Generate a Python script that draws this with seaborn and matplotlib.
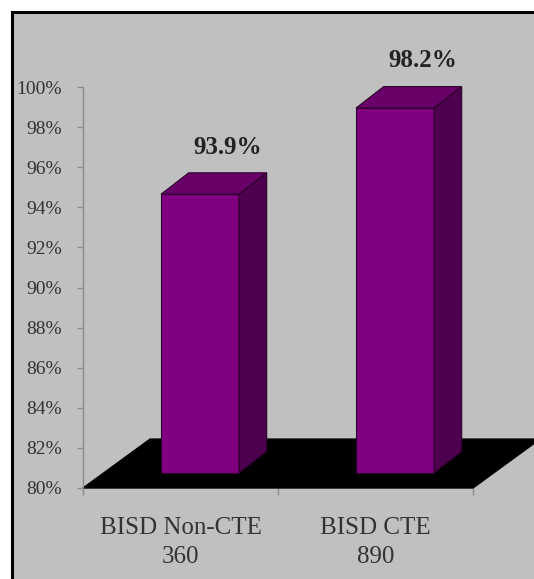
import matplotlib
matplotlib.use("Agg")
import matplotlib.pyplot as plt
from matplotlib.patches import Polygon, Rectangle
import pandas as pd
import seaborn as sns

# =============================================================================
# data
# =============================================================================
groups = ["BISD Non-CTE", "BISD CTE"]
counts = [360, 890]
rates = [93.9, 98.2]
y_ticks = list(range(80, 101, 2))

# colours
BG = "#c0c0c0"
FRONT = "#800080"
TOP = "#690069"
SIDE = "#4d004d"
EDGE = "#2a002a"

# fake 3d geometry (data units)
BAR_W = 0.4
SHIFT_X, SHIFT_Y = 0.1, 0.75     # bars sit a bit back on the floor
DEPTH_X, DEPTH_Y = 0.142, 1.07   # depth of the bars
FLOOR_X, FLOOR_Y = 0.344, 2.44   # depth of the floor
Y0 = 80

df = pd.DataFrame({
    "group": [f"{g}\n{c}" for g, c in zip(groups, counts)],
    "rate": rates,
})

sns.set_theme(style="white")
plt.rcParams["font.family"] = ["Liberation Serif", "DejaVu Serif"]

fig = plt.figure(figsize=(5.34, 5.79), dpi=100)
fig.patch.set_facecolor("white")
# grey chart area with black frame (cropped on right/bottom)
fig.add_artist(Rectangle((12 / 534, -0.1), 1.0, (579 - 12) / 579 + 0.1,
                         transform=fig.transFigure, facecolor=BG,
                         edgecolor="black", linewidth=2.2, zorder=0))

ax = fig.add_axes([83 / 534, (579 - 488) / 579, 390 / 534, 401 / 579])
ax.set_facecolor("none")

sns.barplot(data=df, x="group", y="rate", color=FRONT, width=BAR_W,
            saturation=1, ax=ax, zorder=3)

ax.set_xlim(-0.5, 1.5)
ax.set_ylim(Y0, 100)

# floor
floor = Polygon([(-0.5, Y0), (1.5, Y0), (1.5 + FLOOR_X, Y0 + FLOOR_Y),
                 (-0.5 + FLOOR_X, Y0 + FLOOR_Y)],
                closed=True, facecolor="black", edgecolor="black",
                zorder=1, clip_on=False)
ax.add_patch(floor)

# turn the flat bars into boxes
bars = list(ax.patches)[:len(rates)]
for i, (bar, v) in enumerate(zip(bars, rates)):
    x0 = i - BAR_W / 2 + SHIFT_X
    x1 = x0 + BAR_W
    y0, y1 = Y0 + SHIFT_Y, v + SHIFT_Y
    bar.set_x(x0)
    bar.set_y(y0)
    bar.set_height(y1 - y0)
    bar.set_edgecolor(EDGE)
    bar.set_linewidth(0.8)
    bar.set_clip_on(False)

    top = [(x0, y1), (x1, y1), (x1 + DEPTH_X, y1 + DEPTH_Y), (x0 + DEPTH_X, y1 + DEPTH_Y)]
    side = [(x1, y0), (x1 + DEPTH_X, y0 + DEPTH_Y), (x1 + DEPTH_X, y1 + DEPTH_Y), (x1, y1)]
    ax.add_patch(Polygon(top, closed=True, facecolor=TOP, edgecolor=EDGE,
                         linewidth=0.8, zorder=3, clip_on=False))
    ax.add_patch(Polygon(side, closed=True, facecolor=SIDE, edgecolor=EDGE,
                         linewidth=0.8, zorder=3, clip_on=False))

    ax.annotate(f"{v:.1f}%", xy=(i + SHIFT_X + DEPTH_X, v + SHIFT_Y + DEPTH_Y),
                xytext=(0, 18.5), textcoords="offset points",
                ha="center", va="center", fontsize=18, fontweight="bold",
                color="#222222", annotation_clip=False)

# axes styling
ax.set_xlabel("")
ax.set_ylabel("")
ax.set_yticks(y_ticks)
ax.yaxis.set_major_formatter(lambda val, pos: f"{val:.0f}%")
ax.tick_params(axis="y", left=True, direction="out", length=4, width=1,
               color="#8c8c8c", labelsize=14, labelcolor="#333333", pad=11)

ax.set_xticks([0, 1])
ax.set_xticks([-0.5, 0.5, 1.5], minor=True)
ax.tick_params(axis="x", which="major", bottom=False, labelsize=18,
               labelcolor="#333333", pad=15)
ax.tick_params(axis="x", which="minor", bottom=True, direction="out",
               length=5, width=1, color="#8c8c8c")
for lbl in ax.get_xticklabels():
    lbl.set_linespacing(1.4)

for side_name in ["top", "right", "bottom"]:
    ax.spines[side_name].set_visible(False)
ax.spines["left"].set_color("#8c8c8c")
ax.spines["left"].set_linewidth(1)
ax.spines["left"].set_bounds(Y0, 100)

fig.savefig("out.png", dpi=100)
